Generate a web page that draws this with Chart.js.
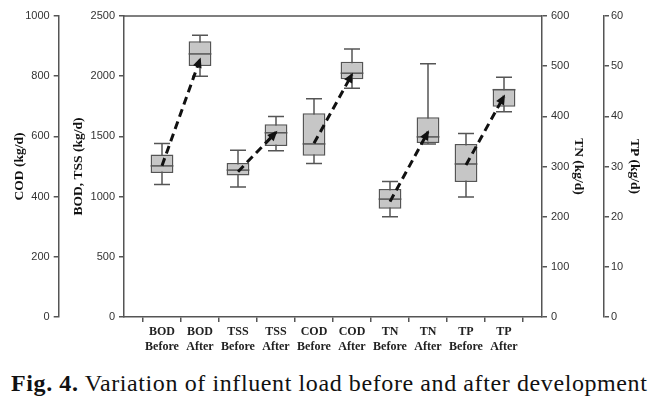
<!DOCTYPE html>
<html>
<head>
<meta charset="utf-8">
<script src="https://cdn.jsdelivr.net/npm/chart.js@4.4.1/dist/chart.umd.min.js"></script>
<style>
    body { margin: 0; background: #fff; }
    .wrap { position: relative; width: 666px; height: 402px; }
    #loadChart { position: absolute; left: 0; top: 0; }
    .caption {
        position: absolute; left: 11px; top: 371px;
        font-family: 'Liberation Serif', serif; font-size: 24px; line-height: 24px;
        letter-spacing: 0.6px; color: #111; white-space: nowrap;
    }
    .caption b { font-weight: bold; }
</style>
</head>
<body>
<div class="wrap">
    <canvas id="loadChart" width="666" height="360"></canvas>
    <div class="caption"><b>Fig. 4.</b> Variation of influent load before and after development</div>
</div>
<script>
// categories on the x axis (empty slots at both ends)
const xLabels = ['', ['BOD', 'Before'], ['BOD', 'After'], ['TSS', 'Before'], ['TSS', 'After'],
    ['COD', 'Before'], ['COD', 'After'], ['TN', 'Before'], ['TN', 'After'],
    ['TP', 'Before'], ['TP', 'After'], ''];

// box stats, order: BOD-B, BOD-A, TSS-B, TSS-A, COD-B, COD-A, TN-B, TN-A, TP-B, TP-A
const whiskerLow  = [1100, 2000, 1080, 1380, 510, 760, 200, 345, 23.9, 40.9];
const q1          = [1195, 2085, 1175, 1420, 536, 790, 216, 347, 26.9, 41.9];
const median      = [1255, 2185, 1220, 1530, 575, 810, 235, 359, 30.5, 45.3];
const q3          = [1350, 2290, 1280, 1600, 677, 848, 255, 398, 34.5, 45.5];
const whiskerHigh = [1440, 2340, 1385, 1665, 725, 890, 270, 505, 36.6, 47.8];

// dashed arrows, one per parameter (before -> after)
const params    = ['BOD', 'TSS', 'COD', 'TN', 'TP'];
const axisOf    = ['yBod', 'yBod', 'yCod', 'yTn', 'yTp'];
const arrowFrom = [1257, 1207, 577, 230, 30.3];
const arrowTo   = [2140, 1534, 806, 369, 44];

// axis ticks
const codTicks = [0, 200, 400, 600, 800, 1000];
const bodTicks = [0, 500, 1000, 1500, 2000, 2500];
const tnTicks  = [0, 100, 200, 300, 400, 500, 600];
const tpTicks  = [0, 10, 20, 30, 40, 50, 60];

document.addEventListener('DOMContentLoaded', () => {
    const axisColor = '#555';
    const boxFill = '#c6c6c6';

    const slot = (p, arr) => {
        const out = new Array(xLabels.length).fill(null);
        out[2 * p + 1] = arr[2 * p];
        out[2 * p + 2] = arr[2 * p + 1];
        return out;
    };

    const boxSets = params.map((name, p) => ({
        type: 'bar',
        label: name,
        yAxisID: axisOf[p],
        data: slot(p, q1.map((v, i) => [v, q3[i]])),
        backgroundColor: boxFill,
        borderColor: axisColor,
        borderWidth: 1.5,
        borderSkipped: false,
        grouped: false,
        barPercentage: 0.6,
        categoryPercentage: 1,
        order: 2
    }));

    const arrowSets = params.map((name, p) => {
        const data = new Array(xLabels.length).fill(null);
        data[2 * p + 1] = arrowFrom[p];
        data[2 * p + 2] = arrowTo[p];
        return {
            type: 'line',
            label: name + ' change',
            yAxisID: axisOf[p],
            data: data,
            borderColor: '#111',
            borderWidth: 3,
            borderDash: [8, 5],
            pointRadius: 0,
            fill: false,
            tension: 0,
            order: 1
        };
    });

    // whiskers, medians, arrow heads and the top frame line
    const boxParts = {
        id: 'boxParts',
        beforeDatasetsDraw(chart) {
            const ctx = chart.ctx;
            ctx.save();
            ctx.strokeStyle = axisColor;
            ctx.lineWidth = 1.5;
            chart.data.datasets.forEach((ds, di) => {
                if (ds.type !== 'bar') return;
                const y = chart.scales[ds.yAxisID];
                chart.getDatasetMeta(di).data.forEach((bar, i) => {
                    if (ds.data[i] == null) return;
                    const k = i - 1;
                    const lo = y.getPixelForValue(whiskerLow[k]);
                    const hi = y.getPixelForValue(whiskerHigh[k]);
                    ctx.beginPath();
                    ctx.moveTo(bar.x, lo); ctx.lineTo(bar.x, hi);
                    ctx.moveTo(bar.x - 8, lo); ctx.lineTo(bar.x + 8, lo);
                    ctx.moveTo(bar.x - 8, hi); ctx.lineTo(bar.x + 8, hi);
                    ctx.stroke();
                });
            });
            ctx.restore();
        },
        afterDatasetDraw(chart, args) {
            const ds = chart.data.datasets[args.index];
            if (ds.type !== 'bar') return;
            const ctx = chart.ctx;
            const y = chart.scales[ds.yAxisID];
            ctx.save();
            ctx.strokeStyle = axisColor;
            ctx.lineWidth = 1.5;
            args.meta.data.forEach((bar, i) => {
                if (ds.data[i] == null) return;
                const m = y.getPixelForValue(median[i - 1]);
                ctx.beginPath();
                ctx.moveTo(bar.x - bar.width / 2, m);
                ctx.lineTo(bar.x + bar.width / 2, m);
                ctx.stroke();
            });
            ctx.restore();
        },
        afterDatasetsDraw(chart) {
            const ctx = chart.ctx;
            ctx.save();
            chart.data.datasets.forEach((ds, di) => {
                if (ds.type !== 'line') return;
                const pts = chart.getDatasetMeta(di).data.filter((pt, i) => ds.data[i] != null);
                const a = pts[0], b = pts[pts.length - 1];
                const ang = Math.atan2(b.y - a.y, b.x - a.x);
                ctx.translate(b.x, b.y);
                ctx.rotate(ang);
                ctx.fillStyle = '#111';
                ctx.beginPath();
                ctx.moveTo(2, 0);
                ctx.lineTo(-8, -4.5);
                ctx.lineTo(-8, 4.5);
                ctx.closePath();
                ctx.fill();
                ctx.setTransform(1, 0, 0, 1, 0, 0);
            });
            const area = chart.chartArea;
            ctx.strokeStyle = axisColor;
            ctx.lineWidth = 1.5;
            ctx.beginPath();
            ctx.moveTo(area.left, area.top);
            ctx.lineTo(area.right, area.top);
            ctx.stroke();
            ctx.restore();
        }
    };

    const tickFont = { family: 'Liberation Sans', size: 11 };
    const titleFont = { family: 'Liberation Serif', size: 13.5, weight: 'bold' };

    const yAxis = (pos, weight, ticks, title, width, titlePad, labelPad) => ({
        type: 'linear',
        position: pos,
        weight: weight,
        min: ticks[0],
        max: ticks[ticks.length - 1],
        afterBuildTicks: (s) => { s.ticks = ticks.map(v => ({ value: v })); },
        afterFit: (s) => { s.width = width; },
        grid: { display: true, drawOnChartArea: false, tickLength: 5, color: axisColor, lineWidth: 1.5 },
        border: { display: true, color: axisColor, width: 1.5 },
        ticks: { font: tickFont, color: '#333', padding: labelPad, callback: (v) => String(v) },
        title: { display: true, text: title, font: titleFont, color: '#111', padding: { top: titlePad, bottom: 0 } }
    });

    new Chart(document.getElementById('loadChart'), {
        data: {
            labels: xLabels,
            datasets: [...boxSets, ...arrowSets]
        },
        options: {
            responsive: false,
            animation: false,
            layout: { padding: { top: 16, left: 0, right: 0, bottom: 0 } },
            plugins: {
                legend: { display: false },
                tooltip: { enabled: false }
            },
            scales: {
                x: {
                    type: 'category',
                    offset: false,
                    afterFit: (s) => { s.height = 43; },
                    grid: { display: true, drawOnChartArea: false, tickLength: 5, color: axisColor, lineWidth: 1.5 },
                    border: { display: true, color: axisColor, width: 1.5 },
                    ticks: {
                        font: { family: 'Liberation Serif', size: 12, weight: 'bold' },
                        color: '#222', autoSkip: false, maxRotation: 0, padding: 3
                    }
                },
                yCod: yAxis('left', 2, codTicks, 'COD (kg/d)', 58.7, 11, 4),
                yBod: yAxis('left', 1, bodTicks, 'BOD, TSS (kg/d)', 65.3, 12, 4),
                yTn: yAxis('right', 1, tnTicks, 'TN (kg/d)', 62, 17, 4),
                yTp: yAxis('right', 2, tpTicks, 'TP (kg/d)', 62, 23, 2)
            }
        },
        plugins: [boxParts]
    });
});
</script>
</body>
</html>
